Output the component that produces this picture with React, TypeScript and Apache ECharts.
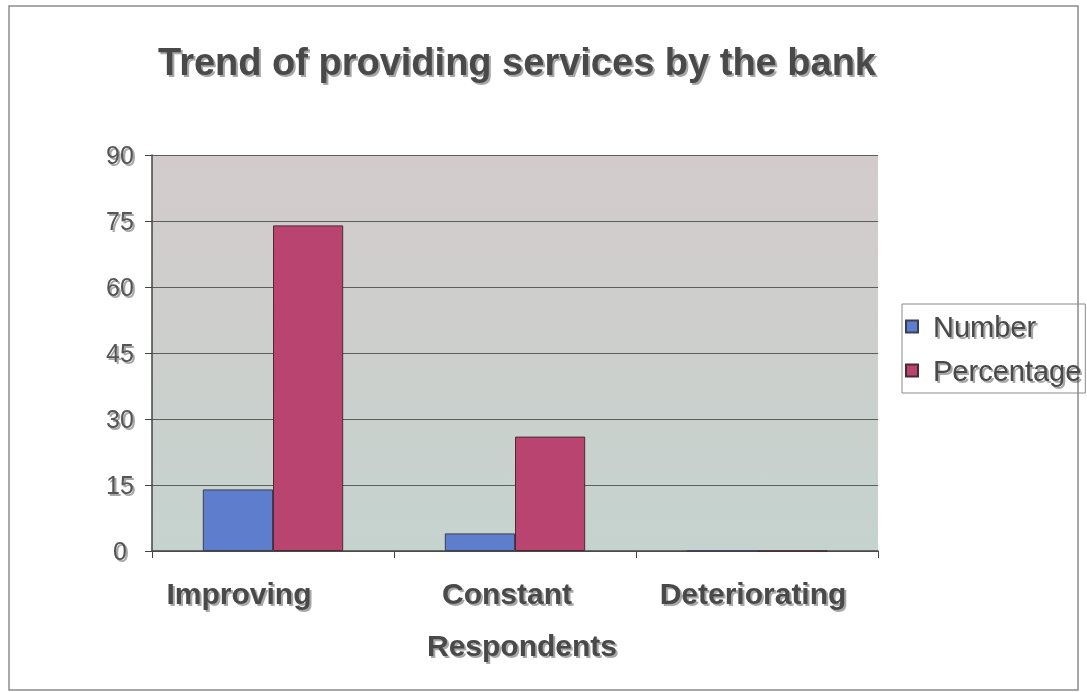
import React, { useEffect, useRef } from "react";
import * as echarts from "echarts";

const categories = ["Improving", "Constant", "Deteriorating"];
const numberValues = [14, 4, 0];
const percentageValues = [74, 26, 0];
const seriesNames = ["Number", "Percentage"];
const titleText = "Trend of providing services by the bank";
const xAxisName = "Respondents";

const shadow = {
  textShadowColor: "rgba(60,60,60,0.45)",
  textShadowOffsetX: 2,
  textShadowOffsetY: 2,
  textShadowBlur: 1,
};

// horizontal label shifts seen in the reference (layout only)
const labelPads = [
  [0, 68, 0, 0],
  [0, 16, 0, 0],
  [0, 8, 0, 0],
];

export default function App() {
  const ref = useRef<HTMLDivElement>(null);
  useEffect(() => {
    if (!ref.current) return;
    const chart = echarts.init(ref.current, null, { renderer: "svg" });
    chart.setOption({
      animation: false,
      backgroundColor: "#ffffff",
      title: {
        text: titleText,
        left: 512,
        top: 38,
        textAlign: "center",
        textStyle: {
          fontFamily: "Liberation Sans",
          fontWeight: "bold",
          fontSize: 38,
          color: "#4a4a4a",
          ...shadow,
        },
      },
      legend: {
        orient: "vertical",
        left: 902,
        top: 304,
        data: seriesNames,
        itemWidth: 12,
        itemHeight: 12,
        itemGap: 15,
        icon: "rect",
        borderColor: "#8a8a8a",
        borderWidth: 1,
        padding: [8, 4, 8, 3],
        textStyle: {
          fontFamily: "Liberation Sans",
          fontSize: 29,
          color: "#4a4a4a",
          ...shadow,
          padding: [0, 0, 0, 10],
        },
      },
      graphic: [
        {
          type: "rect",
          shape: { x: 9, y: 6, width: 1069, height: 684 },
          style: { fill: "none", stroke: "#8c8c8c", lineWidth: 1.5 },
          z: -1,
        },
      ],
      grid: {
        left: 152,
        right: 209,
        top: 155,
        bottom: 141,
        show: true,
        borderWidth: 0,
        backgroundColor: new echarts.graphic.LinearGradient(0, 0, 0, 1, [
          { offset: 0, color: "#d3cbcb" },
          { offset: 1, color: "#c5d3ce" },
        ]),
      },
      xAxis: {
        type: "category",
        data: categories.map((c, i) => ({
          value: c,
          textStyle: { padding: labelPads[i] },
        })),
        name: xAxisName,
        nameLocation: "middle",
        nameGap: 79,
        nameTextStyle: {
          fontFamily: "Liberation Sans",
          fontWeight: "bold",
          fontSize: 30,
          color: "#4a4a4a",
          padding: [0, 0, 0, 14],
          ...shadow,
        },
        axisLine: { lineStyle: { color: "#444", width: 1.5 } },
        axisTick: { show: true, interval: 0, length: 7, lineStyle: { color: "#444" } },
        axisLabel: {
          interval: 0,
          hideOverlap: false,
          margin: 27,
          fontFamily: "Liberation Sans",
          fontWeight: "bold",
          fontSize: 30,
          color: "#4a4a4a",
          ...shadow,
        },
      },
      yAxis: {
        type: "value",
        min: 0,
        max: 90,
        interval: 15,
        axisLine: { show: true, lineStyle: { color: "#444", width: 1.5 } },
        axisTick: { show: true, length: 7, lineStyle: { color: "#444" } },
        axisLabel: {
          margin: 32,
          align: "center",
          fontFamily: "Liberation Sans",
          fontSize: 25,
          color: "#555",
          ...shadow,
        },
        splitLine: { lineStyle: { color: "#5a5f58", width: 1.2 } },
      },
      series: [
        {
          name: seriesNames[0],
          type: "bar",
          data: numberValues,
          barGap: "0%",
          barCategoryGap: "42%",
          itemStyle: { color: "#5e7dcc", borderColor: "#3a3f55", borderWidth: 1 },
        },
        {
          name: seriesNames[1],
          type: "bar",
          data: percentageValues,
          itemStyle: { color: "#b8446f", borderColor: "#4a2a35", borderWidth: 1 },
        },
      ],
    });
    return () => chart.dispose();
  }, []);
  return (
    <div
      ref={ref}
      style={{ position: "fixed", left: 0, top: 0, width: 1087, height: 692 }}
    />
  );
}
